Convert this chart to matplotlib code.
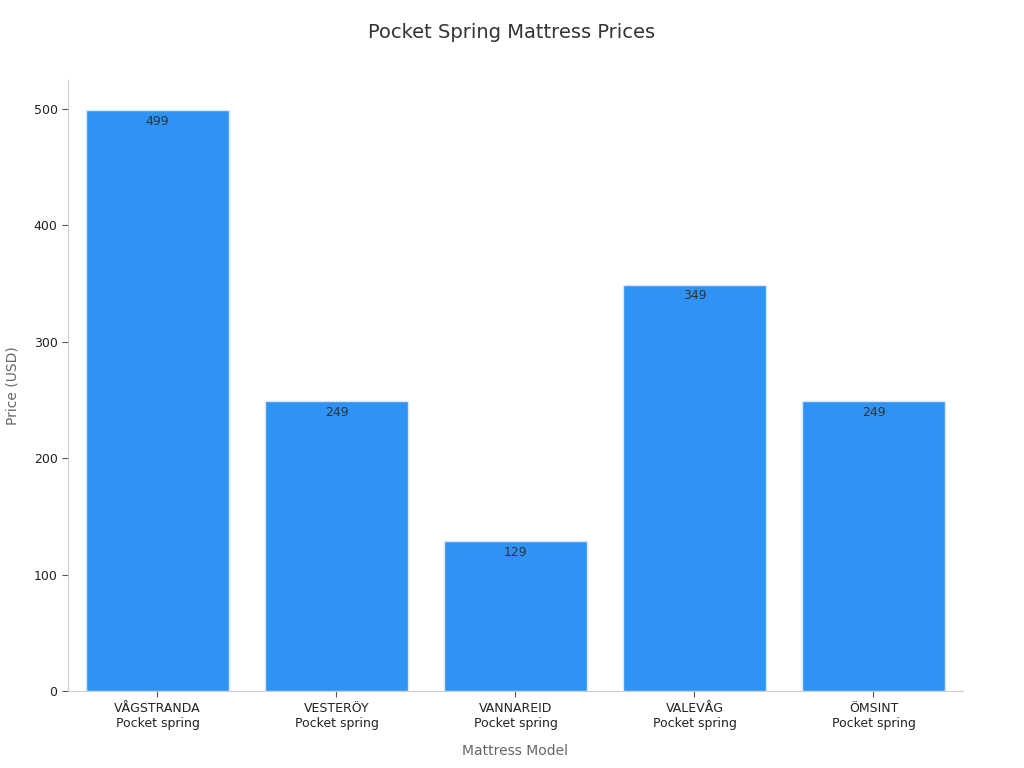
import matplotlib.pyplot as plt

models = ["VÅGSTRANDA", "VESTERÖY", "VANNAREID", "VALEVÅG", "ÖMSINT"]
kind = ["Pocket spring"] * 5
prices = [499, 249, 129, 349, 249]

fig = plt.figure(figsize=(10.24, 7.68), dpi=100)
ax = fig.add_axes([0.0664, 0.100, 0.8740, 0.796])

x = range(len(models))
bars = ax.bar(x, prices, width=0.8, color="#2e93f5", edgecolor="#d8e8f8", linewidth=1)
for b, v in zip(bars, prices):
    ax.text(b.get_x() + b.get_width() / 2, v - 4, str(v), ha="center", va="top",
            fontsize=9, color="#333333")

ax.set_xticks(list(x))
ax.set_xticklabels([f"{m}\n{k}" for m, k in zip(models, kind)], fontsize=9, color="#222222")
ax.set_xlim(-0.5, 4.5)
ax.set_ylim(0, 525)
ax.set_yticks([0, 100, 200, 300, 400, 500])
ax.tick_params(axis="y", labelsize=9, colors="#222222")
ax.tick_params(axis="both", color="#555555", length=4)

for s in ("top", "right"):
    ax.spines[s].set_visible(False)
for s in ("left", "bottom"):
    ax.spines[s].set_color("#cccccc")

ax.set_xlabel("Mattress Model", fontsize=10, color="#666666", labelpad=10)
ax.set_ylabel("Price (USD)", fontsize=10, color="#666666", labelpad=10)
fig.suptitle("Pocket Spring Mattress Prices", fontsize=14, color="#333333", y=0.97)

fig.savefig("out.png", dpi=100)
